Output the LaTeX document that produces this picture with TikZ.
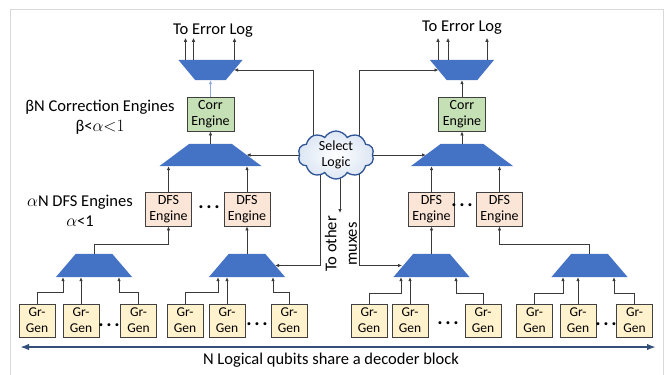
\documentclass[tikz,border=0pt]{standalone}
\usepackage{fontspec}
\setmainfont{Carlito}
\usetikzlibrary{arrows.meta,shapes.symbols,backgrounds,calc}
\definecolor{muxblue}{HTML}{4472C4}
\definecolor{corrgreen}{HTML}{C5E0B4}
\definecolor{dfspeach}{HTML}{FBE5D6}
\definecolor{gryellow}{HTML}{FFF2CC}
\definecolor{boxline}{HTML}{404040}
\definecolor{wire}{HTML}{3A3A3A}
\definecolor{lightwire}{HTML}{8FAADC}
\definecolor{cloudblue}{HTML}{2F5597}
\definecolor{cloudfill}{HTML}{DCE6F4}
\definecolor{busblue}{HTML}{34507A}
\definecolor{framegray}{HTML}{D9D9D9}
\newcommand{\biglbl}{\fontsize{16.5}{20.5}\selectfont}
\newcommand{\boxlbl}{\fontsize{14}{16.5}\selectfont}
\newcommand{\grlbl}{\fontsize{13.5}{16}\selectfont}
\newcommand{\dotrow}{\fontsize{20}{24}\selectfont\bfseries .\kern2.6pt.\kern2.6pt.}
\newcommand{\fillmuxup}[2]{\fill[muxblue] (#1.south west) -- (#1.south east) -- ([xshift=-#2]#1.north east) -- ([xshift=#2]#1.north west) -- cycle;}
\newcommand{\fillmuxdown}[2]{\fill[muxblue] (#1.north west) -- (#1.north east) -- ([xshift=-#2]#1.south east) -- ([xshift=#2]#1.south west) -- cycle;}
\begin{document}
\begin{tikzpicture}[x=1pt,y=-1pt,
  conn/.style={draw=wire, line width=0.9pt, -{Latex[length=4pt,width=3.6pt]}},
  basebox/.style={draw=boxline, line width=0.9pt, inner sep=0pt, align=center},
  corrbox/.style={basebox, fill=corrgreen, minimum width=47pt, minimum height=34pt, font=\boxlbl},
  dfsbox/.style={basebox, fill=dfspeach, minimum width=46pt, minimum height=34pt, font=\boxlbl},
  grbox/.style={basebox, fill=gryellow, minimum width=36pt, minimum height=33pt, font=\grlbl},
  muxframe/.style={inner sep=0pt, draw=none},
  lbl/.style={font=\biglbl, align=center, inner sep=0pt},
  dotlbl/.style={inner sep=0pt},
  bus/.style={draw=busblue, line width=2.2pt, {Latex[length=9pt,width=6.5pt]}-{Latex[length=9pt,width=6.5pt]}},
]
\useasboundingbox (0,0) rectangle (667,375);
\draw[framegray, line width=0.8pt] (10,375) -- (10,9) -- (663,9) -- (663,375);

% muxes
\node[muxframe, minimum width=64pt, minimum height=20pt] (TL) at (210.5,70) {};
\node[muxframe, minimum width=102pt, minimum height=22pt] (ML) at (210.5,155) {};
\node[muxframe, minimum width=64pt, minimum height=20pt] (TR) at (462,70) {};
\node[muxframe, minimum width=102pt, minimum height=22pt] (MR) at (462,155) {};
\node[muxframe, minimum width=76pt, minimum height=23pt] (B1) at (94,265.5) {};
\node[muxframe, minimum width=76pt, minimum height=23pt] (B2) at (247,265.5) {};
\node[muxframe, minimum width=76pt, minimum height=23pt] (B3) at (431.5,265.5) {};
\node[muxframe, minimum width=76pt, minimum height=23pt] (B4) at (589.5,265.5) {};
\fillmuxdown{TL}{17pt}
\fillmuxdown{TR}{17pt}
\fillmuxup{ML}{30pt}
\fillmuxup{MR}{30pt}
\fillmuxup{B1}{20pt}
\fillmuxup{B2}{20pt}
\fillmuxup{B3}{20pt}
\fillmuxup{B4}{20pt}

% engines
\node[corrbox] (CL) at (210.5,114) {Corr\\Engine};
\node[corrbox] (CR) at (462,114) {Corr\\Engine};
\node[dfsbox] (D1) at (168.5,209) {DFS\\Engine};
\node[dfsbox] (D2) at (247,209) {DFS\\Engine};
\node[dfsbox] (D3) at (431.5,209) {DFS\\Engine};
\node[dfsbox] (D4) at (499.5,209) {DFS\\Engine};

% graph generators
\node[grbox] (G1) at (37,320.5) {Gr-\\Gen};
\node[grbox] (G2) at (81,320.5) {Gr-\\Gen};
\node[grbox] (G3) at (138.5,320.5) {Gr-\\Gen};
\node[grbox] (G4) at (185,320.5) {Gr-\\Gen};
\node[grbox] (G5) at (227,320.5) {Gr-\\Gen};
\node[grbox] (G6) at (289,320.5) {Gr-\\Gen};
\node[grbox] (G7) at (369,320.5) {Gr-\\Gen};
\node[grbox] (G8) at (410,320.5) {Gr-\\Gen};
\node[grbox] (G9) at (483,320.5) {Gr-\\Gen};
\node[grbox] (G10) at (534.5,320.5) {Gr-\\Gen};
\node[grbox] (G11) at (578,320.5) {Gr-\\Gen};
\node[grbox] (G12) at (634.5,320.5) {Gr-\\Gen};

% select logic
\node[cloud, cloud puffs=10, cloud puff arc=120, aspect=1.7, draw=cloudblue, line width=1.3pt, inner color=white, outer color=cloudfill, inner sep=-3pt, minimum width=76pt, minimum height=48pt, align=center, font=\boxlbl] (sel) at (336,155) {Select\\Logic};
\coordinate (other) at (340,213);

\begin{pgfonlayer}{background}
\draw[conn] ([xshift=-23pt]sel.center) |- ([xshift=23.5pt]TL.center);
\draw[conn] (sel.center) -- ([xshift=36pt]ML.center);
\draw[conn] ([xshift=-16pt]sel.center) |- ([xshift=28pt]B2.center);
\draw[conn] ([xshift=4pt]sel.center) -- (other);
\draw[conn] ([xshift=23pt]sel.center) |- ([xshift=-29.5pt]B3.center);
\draw[conn] ([xshift=23pt]sel.center) |- ([xshift=-23.5pt]TR.center);
\draw[conn] (sel.center) -- ([xshift=-36pt]MR.center);
\end{pgfonlayer}

% Gr-Gen to muxes
\draw[conn] (G1.north) -- ++(0,-11) -| ([xshift=-31pt]B1.south);
\draw[conn] (G2.north) -- (G2.north |- B1.south);
\draw[conn] (G3.north) -- ++(0,-11) -| ([xshift=25pt]B1.south);
\draw[conn] (G4.north) -- ++(0,-11) -| ([xshift=-29pt]B2.south);
\draw[conn] (G5.north) -- (G5.north |- B2.south);
\draw[conn] (G6.north) -- ++(0,-11) -| ([xshift=26pt]B2.south);
\draw[conn] (G7.north) -- ++(0,-10) -| ([xshift=-30.5pt]B3.south);
\draw[conn] (G8.north) -- (G8.north |- B3.south);
\draw[conn] (G9.north) -- ++(0,-10) -| ([xshift=24.5pt]B3.south);
\draw[conn] (G10.north) -- ++(0,-10) -| ([xshift=-26.5pt]B4.south);
\draw[conn] (G11.north) -- (G11.north |- B4.south);
\draw[conn] (G12.north) -- ++(0,-10) -| ([xshift=24.5pt]B4.south);

% muxes to DFS
\draw[conn] (B1.north) -- ++(0,-9) -| (D1.south);
\draw[conn] (B2.north) -- (D2.south);
\draw[conn] (B3.north) -- (D3.south);
\draw[conn] (B4.north) -- ++(0,-9) -| (D4.south);

% DFS to middle muxes
\draw[conn] (D1.north) -- (D1.north |- ML.south);
\draw[conn] (D2.north) -- (D2.north |- ML.south);
\draw[conn] (D3.north) -- (D3.north |- MR.south);
\draw[conn] (D4.north) -- (D4.north |- MR.south);

% to correction engines
\draw[conn] (ML.north) -- (CL.south);
\draw[conn] (MR.north) -- (CR.south);
\draw[conn, draw=lightwire] (CL.north) -- (TL.south);
\draw[conn] (CR.north) -- (TR.south);

% to error log
\draw[conn] ([xshift=-25pt]TL.north) -- ++(0,-22);
\draw[conn] ([xshift=-17pt]TL.north) -- ++(0,-22);
\draw[conn] ([xshift=24pt]TL.north) -- ++(0,-22);
\draw[conn] ([xshift=-24pt]TR.north) -- ++(0,-22);
\draw[conn] ([xshift=-14pt]TR.north) -- ++(0,-22);
\draw[conn] ([xshift=25pt]TR.north) -- ++(0,-22);

% labels
\node[lbl] (tel1) at (213,31) {To Error Log};
\node[lbl] (tel2) at (462,28) {To Error Log};
\node[lbl] (corrlbl) at (100,117) {βN Correction Engines\\β<$\alpha{<}1$};
\node[lbl] (dfslbl) at (80,211) {$\alpha$N DFS Engines\\$\alpha$<1};
\node[lbl, rotate=90] (otherlbl) at (341,244) {To other\\muxes};
\node[lbl] (cap) at (331,360) {N Logical qubits share a decoder block};

% dots
\node[dotlbl] (dd1) at (209,207) {\dotrow};
\node[dotlbl] (dd2) at (462,205) {\dotrow};
\node[dotlbl] (gd1) at (109,325) {\dotrow};
\node[dotlbl] (gd2) at (257,324) {\dotrow};
\node[dotlbl] (gd3) at (448,323) {\dotrow};
\node[dotlbl] (gd4) at (606,324) {\dotrow};

% bus arrow
\coordinate (busL) at (20,347);
\coordinate (busR) at (656,347);
\draw[bus] (busL) -- (busR);
\end{tikzpicture}
\end{document}
